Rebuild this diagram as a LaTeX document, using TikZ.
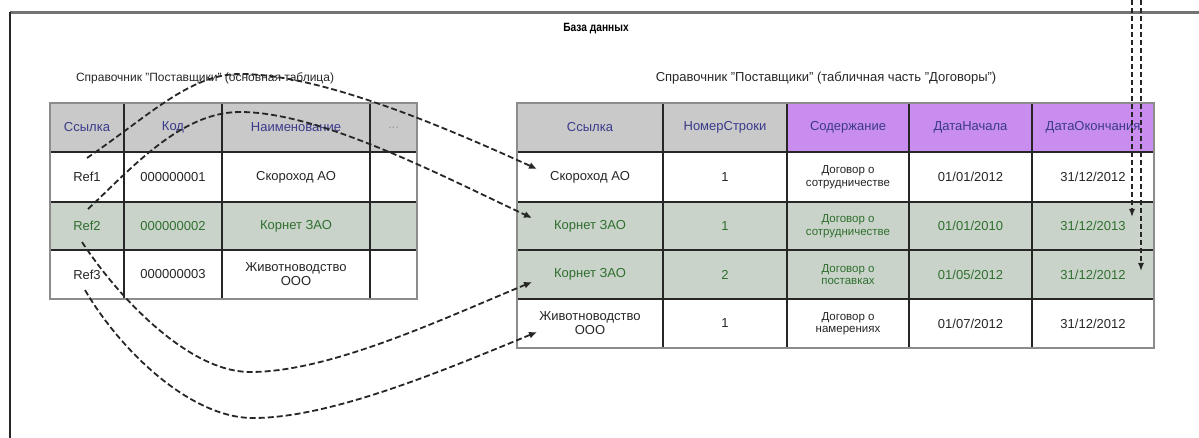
\documentclass[tikz,border=0pt]{standalone}
\usepackage{fontspec}
\setmainfont{Liberation Sans}
\usetikzlibrary{arrows.meta,calc}

\definecolor{hdrgray}{HTML}{C9C9C9}
\definecolor{hdrpurple}{HTML}{C98DF0}
\definecolor{hdrblue}{HTML}{3A3A8C}
\definecolor{rowgreen}{HTML}{C9D3C9}
\definecolor{txtgreen}{HTML}{2F6F2F}
\definecolor{gridline}{HTML}{262626}
\definecolor{edgegray}{HTML}{8C8C8C}

\newcommand{\cellfont}{\fontsize{13}{14}\selectfont}
\newcommand{\smallcellfont}{\fontsize{11.5}{12.5}\selectfont}

\begin{document}
\begin{tikzpicture}[x=1pt,y=-1pt,
  cell/.style={inner sep=0pt, outer sep=0pt, align=center, font=\cellfont},
  hdr/.style={cell, fill=hdrgray, text=hdrblue},
  hdrp/.style={cell, fill=hdrpurple, text=hdrblue},
  plain/.style={cell, fill=white, text=black!85},
  grn/.style={cell, fill=rowgreen, text=txtgreen},
  note/.style={font=\smallcellfont},
  % column widths and row heights
  la/.style={minimum width=74pt}, lb/.style={minimum width=98pt},
  lc/.style={minimum width=148pt}, ld/.style={minimum width=47pt},
  ra/.style={minimum width=146pt}, rb/.style={minimum width=124pt},
  rc/.style={minimum width=122pt}, rd/.style={minimum width=123pt},
  re/.style={minimum width=122pt},
  h49/.style={minimum height=49pt}, h50/.style={minimum height=50pt},
  h48/.style={minimum height=48pt},
  grid/.style={draw=gridline, line width=2.6pt},
  outline/.style={draw=edgegray, line width=1.4pt},
  caption/.style={font=\fontsize{12}{13}\selectfont, text=black!85},
  conn/.style={draw=black!85, line width=1.8pt, dash pattern=on 6pt off 3pt,
    -{Latex[length=8pt,width=7pt]}},
  vconn/.style={draw=black!85, line width=1.4pt, dash pattern=on 5pt off 3pt,
    -{Latex[length=8pt,width=6pt]}}
]
\useasboundingbox (0,0) rectangle (1199,438);

% outer frame of the database area
\draw[draw=black!55, line width=3pt] (10,13) -- (1199,13);
\draw[draw=black!85, line width=2.2pt] (10,12) -- (10,438);

\node[font=\bfseries\fontsize{12}{13}\selectfont] (title) at (596,29) {\scalebox{0.85}[1]{База данных}};

\node[caption] (lcap) at (205,78) {Справочник "Поставщики" (основная таблица)};
\node[caption, font=\fontsize{13}{14}\selectfont] (rcap) at (826,78) {Справочник "Поставщики" (табличная часть "Договоры")};

% ---------- main table ----------
\node[hdr,la,h49] (L11) at (87,127.5)    {Ссылка};
\node[hdr,lb,h49] (L12) at (173,127.5)   {Код};
\node[hdr,lc,h49] (L13) at (296,127.5)   {Наименование};
\node[hdr,ld,h49,text=black!40] (L14) at (393.5,127.5) {...};

\node[plain,la,h50] (L21) at (87,177)    {Ref1};
\node[plain,lb,h50] (L22) at (173,177)   {000000001};
\node[plain,lc,h50] (L23) at (296,177)   {Скороход АО};
\node[plain,ld,h50] (L24) at (393.5,177) {};

\node[grn,la,h48] (L31) at (87,226)      {Ref2};
\node[grn,lb,h48] (L32) at (173,226)     {000000002};
\node[grn,lc,h48] (L33) at (296,226)     {Корнет ЗАО};
\node[grn,ld,h48] (L34) at (393.5,226)   {};

\node[plain,la,h49] (L41) at (87,274.5)  {Ref3};
\node[plain,lb,h49] (L42) at (173,274.5) {000000003};
\node[plain,lc,h49] (L43) at (296,274.5) {Животноводство\\ООО};
\node[plain,ld,h49] (L44) at (393.5,274.5) {};

\foreach \c in {1,2,3} \draw[grid] (L1\c.north east) -- (L4\c.south east);
\foreach \r in {1,2,3} \draw[grid] (L\r1.south west) -- (L\r4.south east);
\draw[outline] (L11.north west) rectangle (L44.south east);

% ---------- tabular part ----------
\node[hdr,ra,h49]  (R11) at (590,127.5)    {Ссылка};
\node[hdr,rb,h49]  (R12) at (725,127.5)    {НомерСтроки};
\node[hdrp,rc,h49] (R13) at (848,127.5)    {Содержание};
\node[hdrp,rd,h49] (R14) at (970.5,127.5)  {ДатаНачала};
\node[hdrp,re,h49] (R15) at (1093,127.5)   {ДатаОкончания};

\node[plain,ra,h50] (R21) at (590,177)     {Скороход АО};
\node[plain,rb,h50] (R22) at (725,177)     {1};
\node[plain,rc,h50,note] (R23) at (848,177) {Договор о\\сотрудничестве};
\node[plain,rd,h50] (R24) at (970.5,177)   {01/01/2012};
\node[plain,re,h50] (R25) at (1093,177)    {31/12/2012};

\node[grn,ra,h48] (R31) at (590,226)       {Корнет ЗАО};
\node[grn,rb,h48] (R32) at (725,226)       {1};
\node[grn,rc,h48,note] (R33) at (848,226)  {Договор о\\сотрудничестве};
\node[grn,rd,h48] (R34) at (970.5,226)     {01/01/2010};
\node[grn,re,h48] (R35) at (1093,226)      {31/12/2013};

\node[grn,ra,h49] (R41) at (590,274.5)     {Корнет ЗАО};
\node[grn,rb,h49] (R42) at (725,274.5)     {2};
\node[grn,rc,h49,note] (R43) at (848,274.5) {Договор о\\поставках};
\node[grn,rd,h49] (R44) at (970.5,274.5)   {01/05/2012};
\node[grn,re,h49] (R45) at (1093,274.5)    {31/12/2012};

\node[plain,ra,h49] (R51) at (590,323.5)   {Животноводство\\ООО};
\node[plain,rb,h49] (R52) at (725,323.5)   {1};
\node[plain,rc,h49,note] (R53) at (848,323.5) {Договор о\\намерениях};
\node[plain,rd,h49] (R54) at (970.5,323.5) {01/07/2012};
\node[plain,re,h49] (R55) at (1093,323.5)  {31/12/2012};

\foreach \c in {1,2,3,4} \draw[grid] (R1\c.north east) -- (R5\c.south east);
\foreach \r in {1,2,3,4} \draw[grid] (R\r1.south west) -- (R\r5.south east);
\draw[outline] (R11.north west) rectangle (R55.south east);

% ---------- references from the main table to the tabular part ----------
\coordinate (s1) at ($(L21.north)+(0,6)$);
\coordinate (s2) at ($(L31.north)+(1,7)$);
\coordinate (s3) at ($(L31.south)+(-5,-8)$);
\coordinate (s4) at ($(L41.south)+(-2,-9)$);
\coordinate (e1) at ($(R21.west)+(20,-8)$);
\coordinate (e2) at ($(R31.west)+(15,-8)$);
\coordinate (e3) at ($(R41.west)+(15,7.5)$);
\coordinate (e4) at ($(R51.west)+(20,8.5)$);

\draw[conn] (s1) .. controls (150,115) and (190,74) .. (240,74)
                 .. controls (320,74) and (440,125) .. (e1);
\draw[conn] (s2) .. controls (130,170) and (180,112) .. (240,112)
                 .. controls (320,112) and (440,175) .. (e2);
\draw[conn] (s3) .. controls (120,300) and (190,372) .. (250,372)
                 .. controls (330,372) and (440,320) .. (e3);
\draw[conn] (s4) .. controls (120,350) and (190,418) .. (253,418)
                 .. controls (330,418) and (440,372) .. (e4);

% ---------- incoming links from above ----------
\coordinate (v1) at (1132,0);
\coordinate (v2) at (1141,0);
\coordinate (t1) at ($(R35.north east)+(-22,15)$);
\coordinate (t2) at ($(R45.north east)+(-13,21)$);
\draw[vconn] (v1) -- (t1);
\draw[vconn] (v2) -- (t2);

\end{tikzpicture}
\end{document}
